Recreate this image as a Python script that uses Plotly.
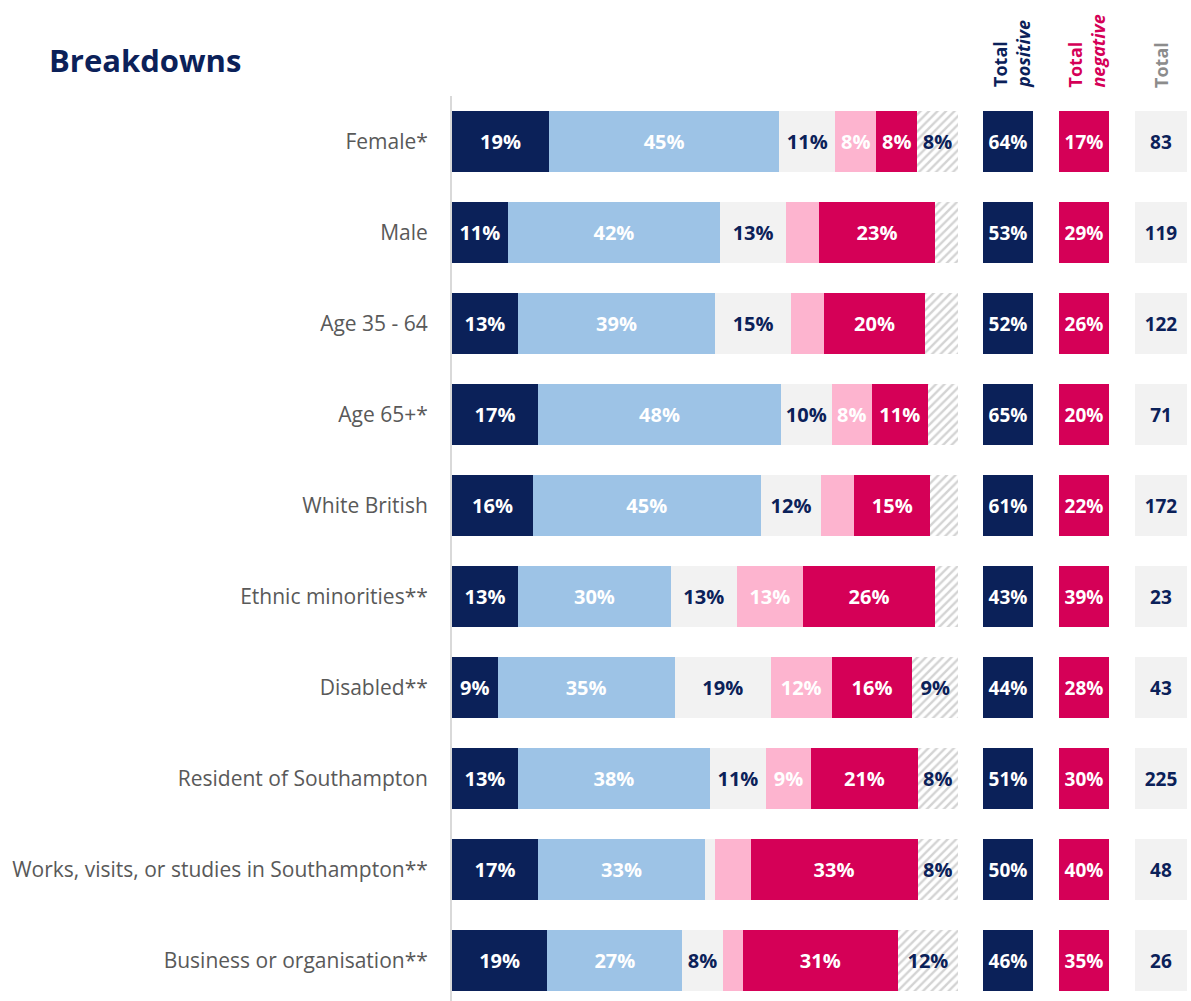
import plotly.graph_objects as go

# rows, top to bottom
categories = ["Female*", "Male", "Age 35 - 64", "Age 65+*", "White British",
              "Ethnic minorities**", "Disabled**", "Resident of Southampton",
              "Works, visits, or studies in Southampton**", "Business or organisation**"]

strongly_positive = [19, 11, 13, 17, 16, 13, 9, 13, 17, 19]
positive = [45, 42, 39, 48, 45, 30, 35, 38, 33, 27]
neutral = [11, 13, 15, 10, 12, 13, 19, 11, 2, 8]
negative = [8, 6.5, 6.5, 8, 6.5, 13, 12, 9, 7, 4]
strongly_negative = [8, 23, 20, 11, 15, 26, 16, 21, 33, 31]
dont_know = [8, 4.5, 6.5, 6, 5.5, 4.5, 9, 8, 8, 12]

total_positive = [64, 53, 52, 65, 61, 43, 44, 51, 50, 46]
total_negative = [17, 29, 26, 20, 22, 39, 28, 30, 40, 35]
total = [83, 119, 122, 71, 172, 23, 43, 225, 48, 26]

NAVY = "#0b2159"
LBLUE = "#9dc3e6"
GREY = "#f2f2f2"
PINK = "#fdb4cf"
CRIMSON = "#d50057"
FONT = "Open Sans"

def labels(vals):
    # small segments carry no label
    return [f"{v:.0f}%" if v >= 8 else "" for v in vals]

fig = go.Figure()

segments = [
    (strongly_positive, NAVY, "white", None),
    (positive, LBLUE, "white", None),
    (neutral, GREY, NAVY, None),
    (negative, PINK, "white", None),
    (strongly_negative, CRIMSON, "white", None),
    (dont_know, "white", NAVY, "/"),
]
for vals, col, tcol, pat in segments:
    marker = dict(color=col, line_width=0)
    if pat:
        marker["pattern"] = dict(shape=pat, fgcolor="#a8a8a8", bgcolor="white",
                                 size=6, solidity=0.4)
    fig.add_trace(go.Bar(
        y=categories, x=vals, orientation="h", marker=marker,
        text=labels(vals), textposition="inside", insidetextanchor="middle",
        textfont=dict(color=tcol, size=20, family=FONT, weight="bold"),
        textangle=0, showlegend=False, hoverinfo="skip"))

# side columns (barnorm makes each one a full-width box)
side = [(total_positive, NAVY, "white", "x2", lambda v: f"{v}%"),
        (total_negative, CRIMSON, "white", "x3", lambda v: f"{v}%"),
        (total, GREY, NAVY, "x4", lambda v: f"{v}")]
for vals, col, tcol, ax, fmt in side:
    fig.add_trace(go.Bar(
        y=categories, x=[1] * len(vals), orientation="h", xaxis=ax,
        marker=dict(color=col, line_width=0),
        text=[fmt(v) for v in vals], textposition="inside", insidetextanchor="middle",
        textfont=dict(color=tcol, size=19, family=FONT, weight="bold"),
        textangle=0, showlegend=False, hoverinfo="skip"))

W = 1191
def dom(a, b):
    return [a / W, b / W]

fig.update_layout(
    width=W, height=1001,
    margin=dict(l=0, r=0, t=96, b=0),
    paper_bgcolor="white", plot_bgcolor="white",
    barmode="stack", barnorm="percent", bargap=0.33,
    font=dict(family=FONT, color="#595959"),
    xaxis=dict(domain=dom(452, 958), range=[0, 100], visible=False),
    xaxis2=dict(domain=dom(983, 1033), range=[0, 100], visible=False, anchor="y"),
    xaxis3=dict(domain=dom(1059, 1109), range=[0, 100], visible=False, anchor="y"),
    xaxis4=dict(domain=dom(1135, 1187), range=[0, 100], visible=False, anchor="y"),
    yaxis=dict(range=[9.445, -0.5], showline=True, linecolor="#d9d9d9", linewidth=2,
               showgrid=False, zeroline=False, ticks="", ticklabelstandoff=18,
               tickfont=dict(size=21, color="#595959", family=FONT)),
)

fig.add_annotation(text="<b>Breakdowns</b>", xref="paper", yref="paper",
                   x=47 / W, y=1.0, yshift=36, xanchor="left", yanchor="middle",
                   showarrow=False, font=dict(size=31, color=NAVY, family=FONT))

heads = [("<b>Total</b><br><b><i>positive</i></b>", NAVY, 1011),
         ("<b>Total</b><br><b><i>negative</i></b>", CRIMSON, 1086),
         ("<b>Total</b>", "#8c8c8c", 1161)]
for txt, col, xc in heads:
    fig.add_annotation(text=txt, xref="paper", yref="paper", x=xc / W, y=1.0,
                       yshift=6, xanchor="center", yanchor="bottom", textangle=-90,
                       align="left", showarrow=False,
                       font=dict(size=18, color=col, family=FONT))

fig.write_html("out.html", config={"displayModeBar": False},
               post_script="document.body.style.margin='0';")
